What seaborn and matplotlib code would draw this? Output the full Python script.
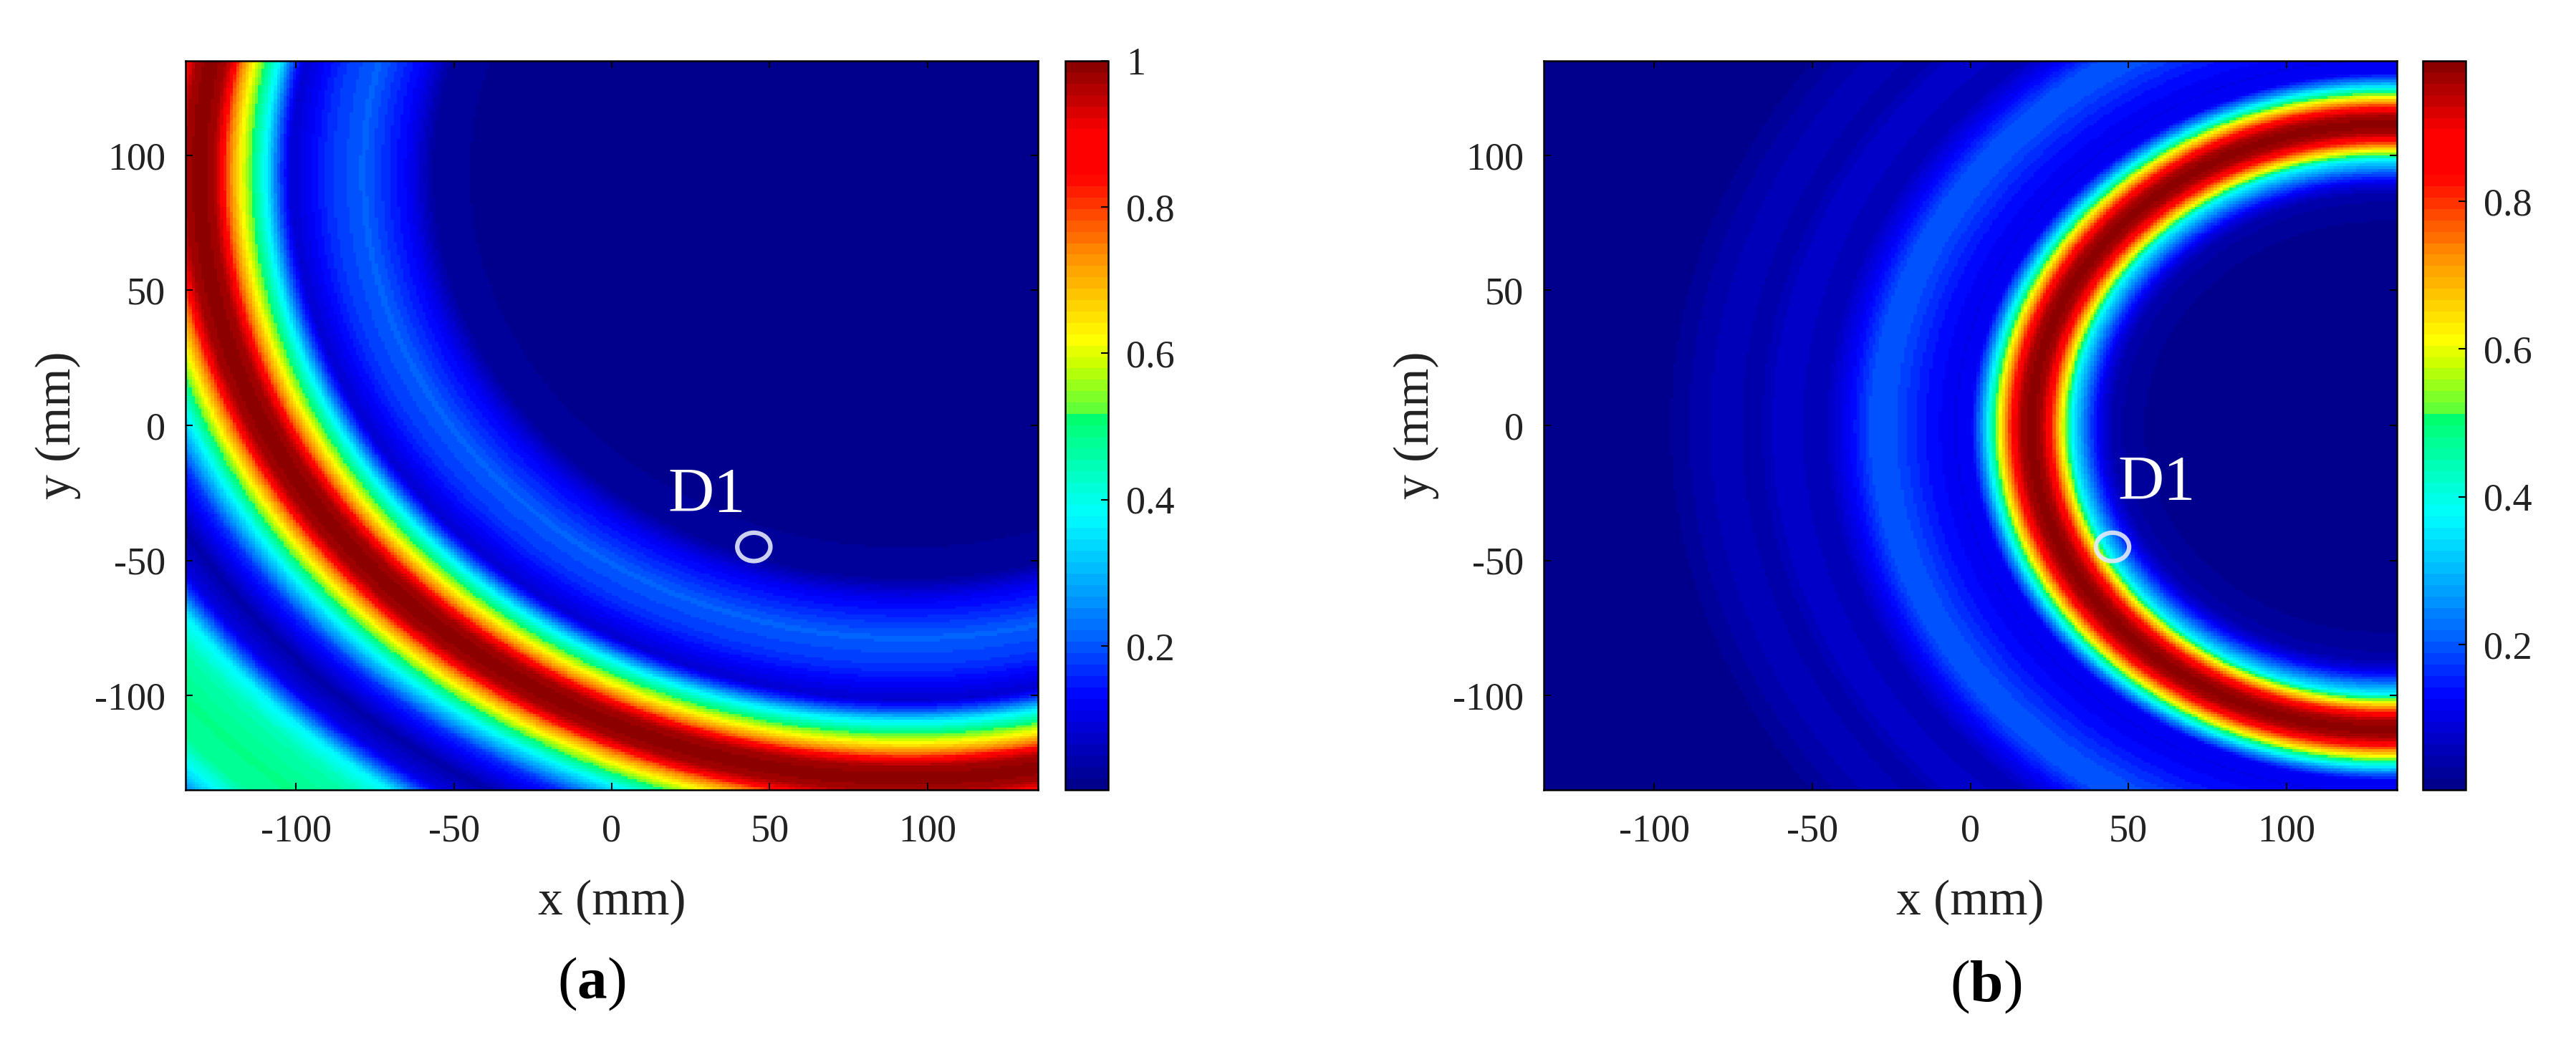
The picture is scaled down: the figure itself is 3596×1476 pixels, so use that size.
import numpy as np
import pandas as pd
import seaborn as sns
from matplotlib import pyplot as plt
from matplotlib.colors import LinearSegmentedColormap, ListedColormap
from matplotlib.patches import Ellipse

# axis values
x_mm = np.arange(-134.5, 135, 1)
y_mm = np.arange(134.5, -135, -1)
axis_ticks = [-100, -50, 0, 50, 100]
axis_tick_labels = ['-100', '-50', '0', '50', '100']

center_a = (93.6, 93.4)
radius_a = [0, 130, 150, 158, 172, 183, 195, 199, 203, 207.2, 210.9, 215.4, 217.7, 219.7, 224.2,
            228.7, 230.7, 233, 237.5, 241.2, 245.5, 253, 264, 272, 276, 281, 288, 300, 310, 317, 323, 335]
level_a = [0.01, 0.01, 0.03, 0.12, 0.21, 0.17, 0.08, 0.2, 0.37, 0.5, 0.62, 0.78, 0.92, 0.97, 1.0,
           0.97, 0.92, 0.78, 0.62, 0.5, 0.37, 0.17, 0.04, 0.1, 0.2, 0.37, 0.45, 0.49, 0.47, 0.37, 0.25, 0.2]

center_b = (131.3, -0.5)
radius_b = [0, 72, 77, 86, 90, 94, 97, 99, 100.6, 102.3, 105, 107.5, 109, 112, 115, 116.5, 119, 121.9,
            123.6, 125.7, 128, 131, 136, 145, 155, 162, 170, 178, 191, 199, 209, 222, 229, 400]
level_b = [0.01, 0.01, 0.02, 0.04, 0.1, 0.2, 0.3, 0.37, 0.5, 0.62, 0.78, 0.92, 0.96, 0.99, 0.96, 0.92, 0.78, 0.62,
           0.5, 0.37, 0.24, 0.12, 0.11, 0.14, 0.19, 0.2, 0.12, 0.05, 0.08, 0.04, 0.06, 0.03, 0.01, 0.01]

# colour stops
cbar_stops = [0.0, 0.12, 0.2, 0.375, 0.51, 0.52, 0.585, 0.62, 0.71, 0.775, 0.85, 0.91, 0.95, 1.0]
cbar_colors = ['#00008c', '#0000ff', '#0060ff', '#00ffff', '#00ff6e', '#5aff3c', '#c8ff00', '#ffff00',
               '#ffaa00', '#ff6400', '#ff0000', '#ff0000', '#c80000', '#8c0000']
jet_like = LinearSegmentedColormap.from_list('jet_like', list(zip(cbar_stops, cbar_colors)))
jet_like = ListedColormap(jet_like(np.linspace(0, 1, 64)))

sns.set_theme(style='white')
plt.rcParams['font.family'] = ['Liberation Serif']
plt.rcParams['mathtext.fontset'] = 'custom'
plt.rcParams['mathtext.rm'] = 'Liberation Serif'
plt.rcParams['mathtext.bf'] = 'Liberation Serif:bold'

W, H = 3596, 1476
fig = plt.figure(figsize=(W / 100, H / 100), dpi=100, facecolor='white')


def box(left, right, top, bottom):
    return [left / W, 1 - bottom / H, (right - left) / W, (bottom - top) / H]


def draw_panel(pos, cpos, center, radius, level, vmax, cbar_ticks, cbar_labels, d1_xy, panel, panel_xy):
    ax = fig.add_axes(box(*pos))
    cax = fig.add_axes(box(*cpos))
    xx, yy = np.meshgrid(x_mm, y_mm)
    dist = np.hypot(xx - center[0], yy - center[1])
    df = pd.DataFrame(np.interp(dist, radius, level), index=y_mm, columns=x_mm)
    sns.heatmap(df, ax=ax, cbar_ax=cax, cmap=jet_like, vmin=0.003, vmax=vmax,
                xticklabels=False, yticklabels=False)

    ax.set_axisbelow(False)
    ax.set_xticks([v + 135 for v in axis_ticks])
    ax.set_xticklabels(axis_tick_labels, rotation=0)
    ax.set_yticks([135 - v for v in axis_ticks])
    ax.set_yticklabels(axis_tick_labels, rotation=0)
    ax.tick_params(axis='x', direction='in', length=7, width=1.5, color='black', labelsize=39,
                   labelcolor='#222222', top=True, bottom=True, pad=24)
    ax.tick_params(axis='y', direction='in', length=7, width=1.5, color='black', labelsize=39,
                   labelcolor='#222222', right=True, left=True, pad=20)
    ax.set_xlabel('x (mm)', fontsize=50, color='#222222', labelpad=30)
    ax.set_ylabel('y (mm)', fontsize=50, color='#222222', labelpad=14)
    for s in ax.spines.values():
        s.set_visible(True)
        s.set_color('black')
        s.set_linewidth(1.8)

    # detector ring and label
    ax.add_patch(Ellipse((45 + 135, 135 + 45), 10.5, 10.5, fill=False,
                         edgecolor='#e4e8fa', linewidth=4.5, alpha=0.9))
    ax.text(d1_xy[0] + 135, 135 - d1_xy[1], 'D1', color='white', fontsize=64,
            ha='center', va='center')

    cbar = ax.collections[0].colorbar
    cbar.set_ticks(cbar_ticks)
    cbar.set_ticklabels(cbar_labels)
    cax.set_axisbelow(False)
    cax.tick_params(axis='y', direction='in', length=7, width=1.5, color='black', labelsize=39,
                    labelcolor='#222222', right=True, left=False, pad=18)
    cbar.outline.set_visible(True)
    cbar.outline.set_edgecolor('black')
    cbar.outline.set_linewidth(1.8)

    fig.text(panel_xy[0] / W, 1 - panel_xy[1] / H, '(' + r'$\mathbf{' + panel + '}$' + ')',
             fontsize=60, color='black', ha='center', va='center')


draw_panel((259, 1449, 85, 1103), (1487, 1547, 85, 1103), center_a, radius_a, level_a, 1.0,
           [0.2, 0.4, 0.6, 0.8, 1.0], ['0.2', '0.4', '0.6', '0.8', '1'], (30, -26), 'a', (826, 1374))
draw_panel((2155, 3346, 85, 1103), (3382, 3442, 85, 1103), center_b, radius_b, level_b, 0.99,
           [0.2, 0.4, 0.6, 0.8], ['0.2', '0.4', '0.6', '0.8'], (59, -21.5), 'b', (2772, 1378))

fig.savefig('out.png', dpi=100, facecolor='white')
